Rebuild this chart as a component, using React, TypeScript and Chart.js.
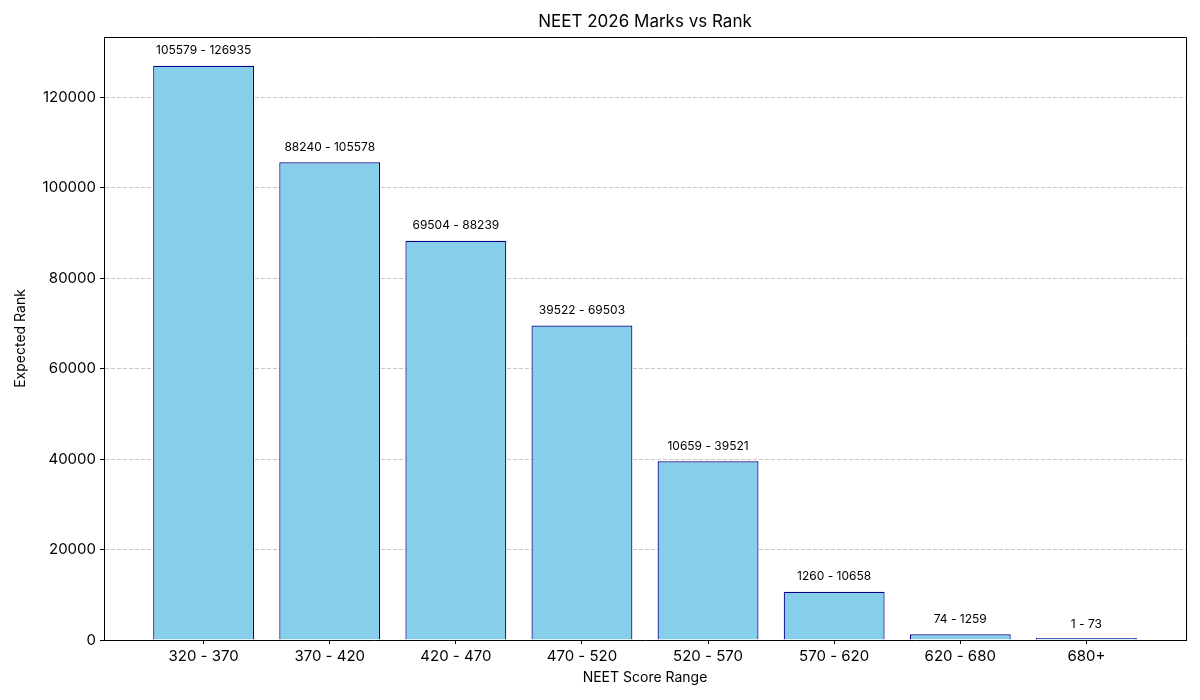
import { useEffect, useRef } from "react";
import { Chart, registerables, ChartConfiguration, Plugin } from "chart.js";

Chart.register(...registerables);

const scoreRanges = ["320 - 370", "370 - 420", "420 - 470", "470 - 520", "520 - 570", "570 - 620", "620 - 680", "680+"];
const rankLabels = ["105579 - 126935", "88240 - 105578", "69504 - 88239", "39522 - 69503", "10659 - 39521", "1260 - 10658", "74 - 1259", "1 - 73"];
const upperRanks = [126935, 105578, 88239, 69503, 39521, 10658, 1259, 73];
const yTicks = [0, 20000, 40000, 60000, 80000, 100000, 120000];

const FONT = "Inter, 'DejaVu Sans', sans-serif";

// title, top/right spines and the range labels over each bar
const overlay: Plugin = {
  id: "overlay",
  afterDatasetsDraw(chart) {
    const { ctx, chartArea, scales } = chart;
    ctx.save();
    ctx.strokeStyle = "#000";
    ctx.lineWidth = 1;
    ctx.beginPath();
    ctx.moveTo(chartArea.left, chartArea.top + 0.5);
    ctx.lineTo(chartArea.right + 0.5, chartArea.top + 0.5);
    ctx.lineTo(chartArea.right + 0.5, chartArea.bottom);
    ctx.stroke();

    ctx.fillStyle = "#000";
    ctx.textAlign = "center";
    ctx.textBaseline = "bottom";
    ctx.font = `12px ${FONT}`;
    upperRanks.forEach((v, i) => {
      const x = scales.x.getPixelForValue(i);
      const y = scales.y.getPixelForValue(v + 2000);
      ctx.fillText(rankLabels[i], x, y);
    });

    ctx.textBaseline = "middle";
    ctx.font = `17px ${FONT}`;
    ctx.fillText("NEET 2026 Marks vs Rank", (chartArea.left + chartArea.right) / 2, 22);
    ctx.restore();
  },
};

export default function App() {
  const canvasRef = useRef<HTMLCanvasElement>(null);
  const chartRef = useRef<Chart | null>(null);

  useEffect(() => {
    document.body.style.margin = "0";
    if (!canvasRef.current) return;
    if (chartRef.current) chartRef.current.destroy();

    const config: ChartConfiguration = {
      type: "bar",
      data: {
        datasets: [
          {
            label: "Expected Rank",
            data: upperRanks.map((v, i) => ({ x: i, y: v })),
            backgroundColor: "#87CEEB",
            borderColor: "#00008B",
            borderWidth: 1.2,
            barPercentage: 0.8,
            categoryPercentage: 1,
            minBarLength: 2,
          },
        ],
      },
      options: {
        animation: false,
        responsive: false,
        layout: { padding: { top: 37, right: 14, left: 0, bottom: 0 } },
        plugins: {
          legend: { display: false },
          tooltip: { enabled: false },
        },
        scales: {
          x: {
            type: "linear",
            min: -0.79,
            max: 7.79,
            offset: false,
            afterBuildTicks: (scale) => {
              scale.ticks = scoreRanges.map((_, i) => ({ value: i }));
            },
            afterFit: (scale) => {
              scale.height = 60;
            },
            ticks: {
              color: "#000",
              font: { family: FONT, size: 15 },
              padding: 3,
              autoSkip: false,
              maxRotation: 0,
              callback: (v) => scoreRanges[Number(v)] ?? "",
            },
            grid: { offset: false, drawOnChartArea: false, tickLength: 4, color: "#000" },
            border: { color: "#000", width: 1 },
            title: {
              display: true,
              text: "NEET Score Range",
              color: "#000",
              font: { family: FONT, size: 14 },
              padding: { top: 0, bottom: 14 },
            },
          },
          y: {
            min: 0,
            max: 133282,
            afterBuildTicks: (scale) => {
              scale.ticks = yTicks.map((v) => ({ value: v }));
            },
            afterFit: (scale) => {
              scale.width = 104;
            },
            ticks: {
              color: "#000",
              font: { family: FONT, size: 15 },
              padding: 4,
              callback: (v) => String(v),
            },
            grid: {
              color: "#c8c8c8",
              tickColor: "#000",
              tickLength: 4,
              tickBorderDash: [],
            },
            border: { color: "#000", width: 1, dash: [4, 2] },
            title: {
              display: true,
              text: "Expected Rank",
              color: "#000",
              font: { family: FONT, size: 14 },
              padding: { top: 12, bottom: 0 },
            },
          },
        },
      },
      plugins: [overlay],
    };

    chartRef.current = new Chart(canvasRef.current, config);
    return () => {
      if (chartRef.current) {
        chartRef.current.destroy();
        chartRef.current = null;
      }
    };
  }, []);

  return (
    <div style={{ width: 1200, height: 700, background: "#fff" }}>
      <canvas ref={canvasRef} width={1200} height={700} />
    </div>
  );
}
